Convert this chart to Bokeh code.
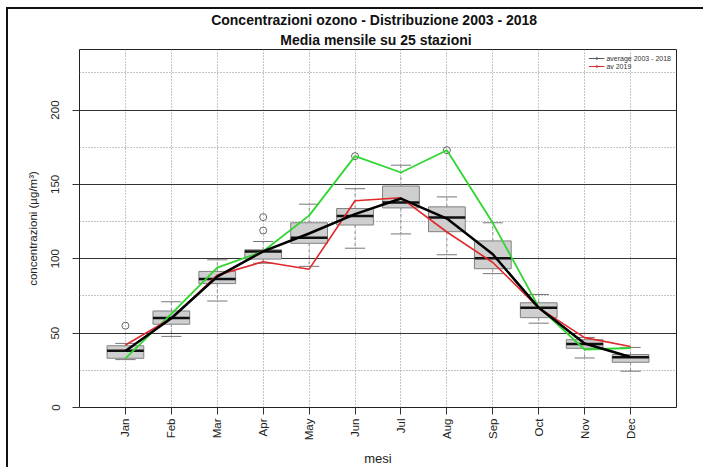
import numpy as np
from bokeh.plotting import figure
from bokeh.models import Range1d, FixedTicker, Grid, Legend, LegendItem, Title
from bokeh.embed import file_html
from bokeh.resources import INLINE

# ---------------- data ----------------
months = ["Jan", "Feb", "Mar", "Apr", "May", "Jun",
          "Jul", "Aug", "Sep", "Oct", "Nov", "Dec"]
month_pos = [1, 2, 3, 4, 5, 6, 7, 8, 9, 10, 11, 12]

# boxplot statistics (distribution 2003 - 2018)
whisker_low = [32.2, 47.8, 71.6, 97.0, 94.9, 107.1, 116.7, 102.7, 90.0, 56.7, 33.3, 24.4]
q1          = [33.1, 56.0, 83.3, 99.8, 110.4, 122.7, 134.2, 118.2, 93.3, 60.4, 39.8, 30.4]
median      = [38.2, 60.2, 86.4, 104.9, 114.2, 128.7, 137.8, 127.8, 100.4, 67.1, 42.7, 33.8]
q3          = [41.5, 64.9, 91.5, 106.0, 124.2, 133.8, 148.9, 134.9, 112.0, 70.4, 45.6, 35.6]
whisker_high = [43.1, 71.1, 99.3, 111.6, 136.7, 147.1, 162.9, 141.6, 124.2, 76.0, 47.1, 40.4]

outlier_month = [1, 4, 4, 6, 8]
outlier_value = [55.0, 119.0, 128.0, 169.0, 173.0]

# lines
avg_2003_2018 = [38, 60, 88, 105, 117, 130, 140.5, 127, 103, 67, 43, 34]
av_2019       = [42, 60, 89, 98, 93, 139, 141, 118, 97.5, 67, 47, 41]
year_2003     = [33, 63, 94, 105, 129, 169, 158, 173, 124, 67.5, 39, 40]

y_major_ticks = [0, 50, 100, 150, 200]
y_minor_ticks = [25, 75, 125, 175, 225]

title_line1 = "Concentrazioni  ozono  - Distribuzione 2003 - 2018"
title_line2 = "Media mensile su 25  stazioni"
x_label = "mesi"
y_label = "concentrazioni (\u00b5g/m\u00b3)"
legend_labels = ["average 2003 - 2018", "av 2019"]

# ---------------- figure ----------------
FONT = "Liberation Sans"
p = figure(width=697, height=460,
           x_range=Range1d(0, 13), y_range=Range1d(0, 240.7),
           output_backend="svg", toolbar_location=None,
           min_border_left=71, min_border_right=29,
           min_border_bottom=58, min_border_top=39,
           title=title_line1)
p.title.align = "center"
p.title.text_font = FONT
p.title.text_font_size = "14px"
p.title.text_font_style = "bold"
p.title.text_color = "#111111"
p.title.standoff = 0
t2 = Title(text=title_line2, align="center", text_font=FONT,
           text_font_size="14px", text_font_style="bold",
           text_color="#111111", standoff=4)
p.add_layout(t2, "above")

p.background_fill_color = "white"
p.border_fill_color = "white"
p.outline_line_color = "#222222"
p.outline_line_width = 1

# grids
p.xgrid.ticker = FixedTicker(ticks=month_pos)
p.xgrid.grid_line_color = "#8a8a8a"
p.xgrid.grid_line_dash = "1 2"
p.ygrid.ticker = FixedTicker(ticks=y_major_ticks)
p.ygrid.grid_line_color = "#333333"
p.ygrid.grid_line_width = 1
minor_grid = Grid(dimension=1, ticker=FixedTicker(ticks=y_minor_ticks),
                  grid_line_color="#8a8a8a", grid_line_dash="1 2")
p.add_layout(minor_grid)

# axes
p.xaxis.ticker = FixedTicker(ticks=month_pos)
p.xaxis.major_label_overrides = {pos: m for pos, m in zip(month_pos, months)}
p.xaxis.major_label_orientation = np.pi / 2
p.yaxis.ticker = FixedTicker(ticks=y_major_ticks)
p.yaxis.major_label_orientation = "vertical"
for ax in (p.xaxis, p.yaxis):
    ax.axis_line_color = None
    ax.major_tick_out = 7
    ax.major_tick_in = 0
    ax.major_tick_line_color = "#333333"
    ax.minor_tick_line_color = None
    ax.major_label_text_font = FONT
    ax.major_label_text_font_size = "11.5px"
    ax.major_label_text_color = "#222222"
    ax.axis_label_text_font = FONT
    ax.axis_label_text_font_style = "normal"
    ax.axis_label_text_color = "#222222"
p.xaxis.major_label_standoff = 4
p.yaxis.major_label_standoff = 13
p.xaxis.axis_label = x_label
p.xaxis.axis_label_text_font_size = "13px"
p.xaxis.axis_label_standoff = 8
p.yaxis.axis_label = y_label
p.yaxis.axis_label_text_font_size = "11.5px"
p.yaxis.axis_label_standoff = 10

# ---------------- boxplots ----------------
pos = np.array(month_pos, dtype=float)
p.segment(x0=pos, y0=q3, x1=pos, y1=whisker_high, line_color="#909090",
          line_dash="3 3", line_width=1)
p.segment(x0=pos, y0=q1, x1=pos, y1=whisker_low, line_color="#909090",
          line_dash="3 3", line_width=1)
p.segment(x0=pos - 0.22, y0=whisker_high, x1=pos + 0.22, y1=whisker_high,
          line_color="#777777", line_width=1)
p.segment(x0=pos - 0.22, y0=whisker_low, x1=pos + 0.22, y1=whisker_low,
          line_color="#777777", line_width=1)
p.vbar(x=pos, width=0.8, bottom=q1, top=q3, fill_color="#cfcfcf",
       line_color="#808080", line_width=1)
p.segment(x0=pos - 0.4, y0=median, x1=pos + 0.4, y1=median,
          line_color="#111111", line_width=2.5)
p.scatter(outlier_month, outlier_value, marker="circle", size=7,
          fill_color=None, line_color="#666666", line_width=1)

# ---------------- lines ----------------
p.line(month_pos, year_2003, line_color="#2fd62f", line_width=1.8)
p.line(month_pos, av_2019, line_color="#e0282b", line_width=1.6)
p.line(month_pos, avg_2003_2018, line_color="#000000", line_width=2.5)

# legend-only renderers (thin line + cross symbol), no visible data
nan_pt = [np.nan]
lg_black_line = p.line(nan_pt, nan_pt, line_color="#555555", line_width=1)
lg_black_cross = p.scatter(nan_pt, nan_pt, marker="cross", size=7, line_color="#555555")
lg_red_line = p.line(nan_pt, nan_pt, line_color="#e0282b", line_width=1)
lg_red_cross = p.scatter(nan_pt, nan_pt, marker="cross", size=7, line_color="#e0282b")
legend = Legend(items=[
    LegendItem(label=legend_labels[0], renderers=[lg_black_line, lg_black_cross]),
    LegendItem(label=legend_labels[1], renderers=[lg_red_line, lg_red_cross]),
], location="top_right")
legend.margin = 3
legend.padding = 2
legend.spacing = 0
legend.glyph_width = 16
legend.glyph_height = 8
legend.label_height = 8
legend.label_standoff = 2
legend.label_text_font = FONT
legend.label_text_font_size = "7px"
legend.label_text_color = "#333333"
legend.background_fill_alpha = 0
legend.border_line_alpha = 0
p.add_layout(legend)

# outer black frame (left and top) as in the reference image
p.styles = {"margin-left": "6px", "margin-top": "7px",
            "border-left": "2px solid #111111", "border-top": "2px solid #111111"}

open("out.html", "w").write(file_html(p, INLINE))
